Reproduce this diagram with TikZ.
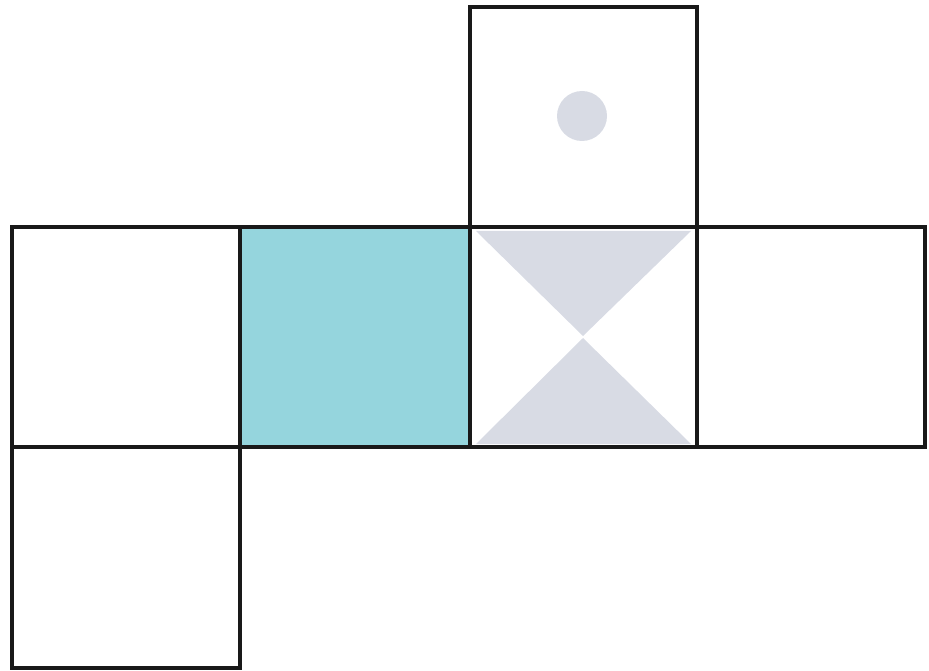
\documentclass[tikz,border=0pt]{standalone}
\begin{document}
\begin{tikzpicture}[x=1pt,y=-1pt,
  face/.style={draw=black!90,line width=3.2pt,line join=miter}]
\definecolor{cyantone}{HTML}{95D5DD}
\definecolor{graytone}{HTML}{D8DBE4}
\useasboundingbox (0,0) rectangle (929,671);
\fill[cyantone] (240,227) rectangle (470,447);
\fill[graytone] (476,231) -- (691,231) -- (583,336) -- cycle;
\fill[graytone] (476,444) -- (691,444) -- (583,338) -- cycle;
\fill[graytone] (582,116) circle (25);
\draw[face] (470,7) rectangle (697,227);
\draw[face] (12,227) rectangle (240,447);
\draw[face] (240,227) rectangle (470,447);
\draw[face] (470,227) rectangle (697,447);
\draw[face] (697,227) rectangle (925,447);
\draw[face] (12,447) rectangle (240,668);
\end{tikzpicture}
\end{document}
